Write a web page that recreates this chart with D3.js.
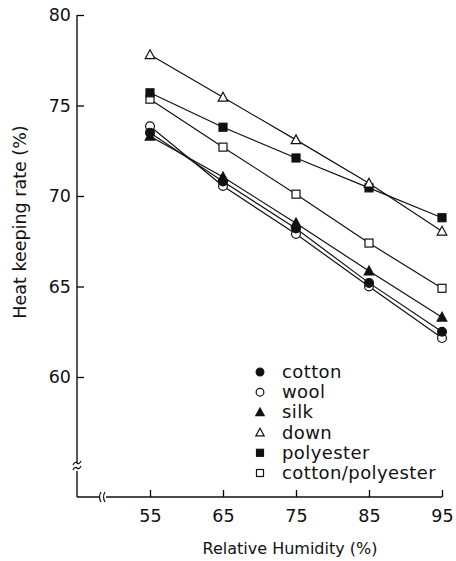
<!DOCTYPE html>
<html>
<head>
<meta charset="utf-8">
<script src="https://cdn.jsdelivr.net/npm/d3@7"></script>
<style>
  body { margin: 0; background: #fff; }
  text { font-family: "DejaVu Sans", sans-serif; fill: #111; }
</style>
</head>
<body>
<div id="chart"></div>
<script>
// humidity levels and the heat keeping rate for each fabric
const humidity = [55, 65, 75, 85, 95];
const yTicks = [60, 65, 70, 75, 80];
const cotton = [73.5, 70.8, 68.2, 65.2, 62.5];
const wool = [73.85, 70.55, 67.9, 65.0, 62.15];
const silk = [73.3, 71.05, 68.5, 65.85, 63.3];
const down = [77.8, 75.45, 73.1, 70.7, 68.05];
const polyester = [75.7, 73.8, 72.1, 70.45, 68.8];
const cottonPoly = [75.35, 72.7, 70.1, 67.4, 64.9];

const series = [
    { name: "cotton", values: cotton, shape: "circle", filled: true },
    { name: "wool", values: wool, shape: "circle", filled: false },
    { name: "silk", values: silk, shape: "triangle", filled: true },
    { name: "down", values: down, shape: "triangle", filled: false },
    { name: "polyester", values: polyester, shape: "square", filled: true },
    { name: "cotton/polyester", values: cottonPoly, shape: "square", filled: false }
];

const width = 456, height = 561;

const svg = d3.select("#chart")
    .append("svg")
    .attr("width", width)
    .attr("height", height);

const x = d3.scaleLinear().domain([45, 95]).range([77, 442]);
const y = d3.scaleLinear().domain([60, 80]).range([377, 15]);
const axisBottomY = 497;

// y axis
const yAxis = svg.append("g")
    .attr("transform", `translate(${x(45)},0)`)
    .call(d3.axisLeft(y).tickValues(yTicks).tickSize(-7).tickPadding(6));
yAxis.select(".domain").remove();
yAxis.selectAll("text").style("font-size", "17.5px").style("font-family", "DejaVu Sans");
yAxis.selectAll("line").attr("stroke-width", 1.3);

// x axis
const xAxis = svg.append("g")
    .attr("transform", `translate(0,${axisBottomY})`)
    .call(d3.axisBottom(x).tickValues(humidity).tickSize(-7).tickPadding(13));
xAxis.select(".domain").remove();
xAxis.selectAll("text").style("font-size", "17.5px").style("font-family", "DejaVu Sans");
xAxis.selectAll("line").attr("stroke-width", 1.3);

// axis lines with breaks
const breakY = 467, breakX = 103;
svg.append("path")
    .attr("d", `M${x(45)},${y(80)}V${breakY - 4}M${x(45)},${breakY + 4}V${axisBottomY}`)
    .attr("stroke", "#111").attr("stroke-width", 1.4).attr("fill", "none");
svg.append("path")
    .attr("d", `M${x(45)},${axisBottomY}H${breakX - 3}M${breakX + 3},${axisBottomY}H${x(95)}`)
    .attr("stroke", "#111").attr("stroke-width", 1.4).attr("fill", "none");

// break symbols
svg.append("path")
    .attr("d", `M${x(45) - 4},${breakY - 2}q2,-4 4,-2t4,-2M${x(45) - 4},${breakY + 3}q2,-4 4,-2t4,-2`)
    .attr("stroke", "#111").attr("stroke-width", 1.2).attr("fill", "none");
svg.append("path")
    .attr("d", `M${breakX - 2},${axisBottomY - 5}q-3,5 0,10M${breakX + 2},${axisBottomY - 5}q-3,5 0,10`)
    .attr("stroke", "#111").attr("stroke-width", 1.2).attr("fill", "none");

// axis titles
svg.append("text")
    .attr("transform", "translate(26,222) rotate(-90)")
    .style("text-anchor", "middle")
    .style("font-size", "17.5px")
    .text("Heat keeping rate (%)");

svg.append("text")
    .attr("x", 290)
    .attr("y", 554)
    .style("text-anchor", "middle")
    .style("font-size", "16px")
    .text("Relative Humidity (%)");

function drawMarker(g, shape, filled, size) {
    let m;
    if (shape === "circle") {
        m = g.append("circle").attr("r", size * 0.55);
    } else if (shape === "square") {
        m = g.append("rect")
            .attr("x", -size / 2).attr("y", -size / 2)
            .attr("width", size).attr("height", size);
    } else {
        const h = size * 1.05;
        m = g.append("path")
            .attr("d", `M0,${-h * 0.6}L${size * 0.6},${h * 0.45}L${-size * 0.6},${h * 0.45}Z`);
    }
    m.attr("fill", filled ? "#111" : "#fff")
        .attr("stroke", "#111")
        .attr("stroke-width", 1.2);
}

const line = d3.line()
    .x((d, i) => x(humidity[i]))
    .y(d => y(d));

// lines first, then markers on top
series.forEach(s => {
    svg.append("path")
        .datum(s.values)
        .attr("d", line)
        .attr("fill", "none")
        .attr("stroke", "#111")
        .attr("stroke-width", 1.2);
});

series.slice().reverse().forEach(s => {
    s.values.forEach((v, i) => {
        const g = svg.append("g").attr("transform", `translate(${x(humidity[i])},${y(v)})`);
        drawMarker(g, s.shape, s.filled, 8);
    });
});

// legend
const legend = svg.append("g").attr("transform", "translate(260,372)");
series.forEach((s, i) => {
    const row = legend.append("g").attr("transform", `translate(0,${i * 20.2})`);
    drawMarker(row, s.shape, s.filled, 7);
    row.append("text")
        .attr("x", 22)
        .attr("y", 6)
        .style("font-size", "18px")
        .style("letter-spacing", "0.4px")
        .text(s.name);
});
</script>
</body>
</html>
